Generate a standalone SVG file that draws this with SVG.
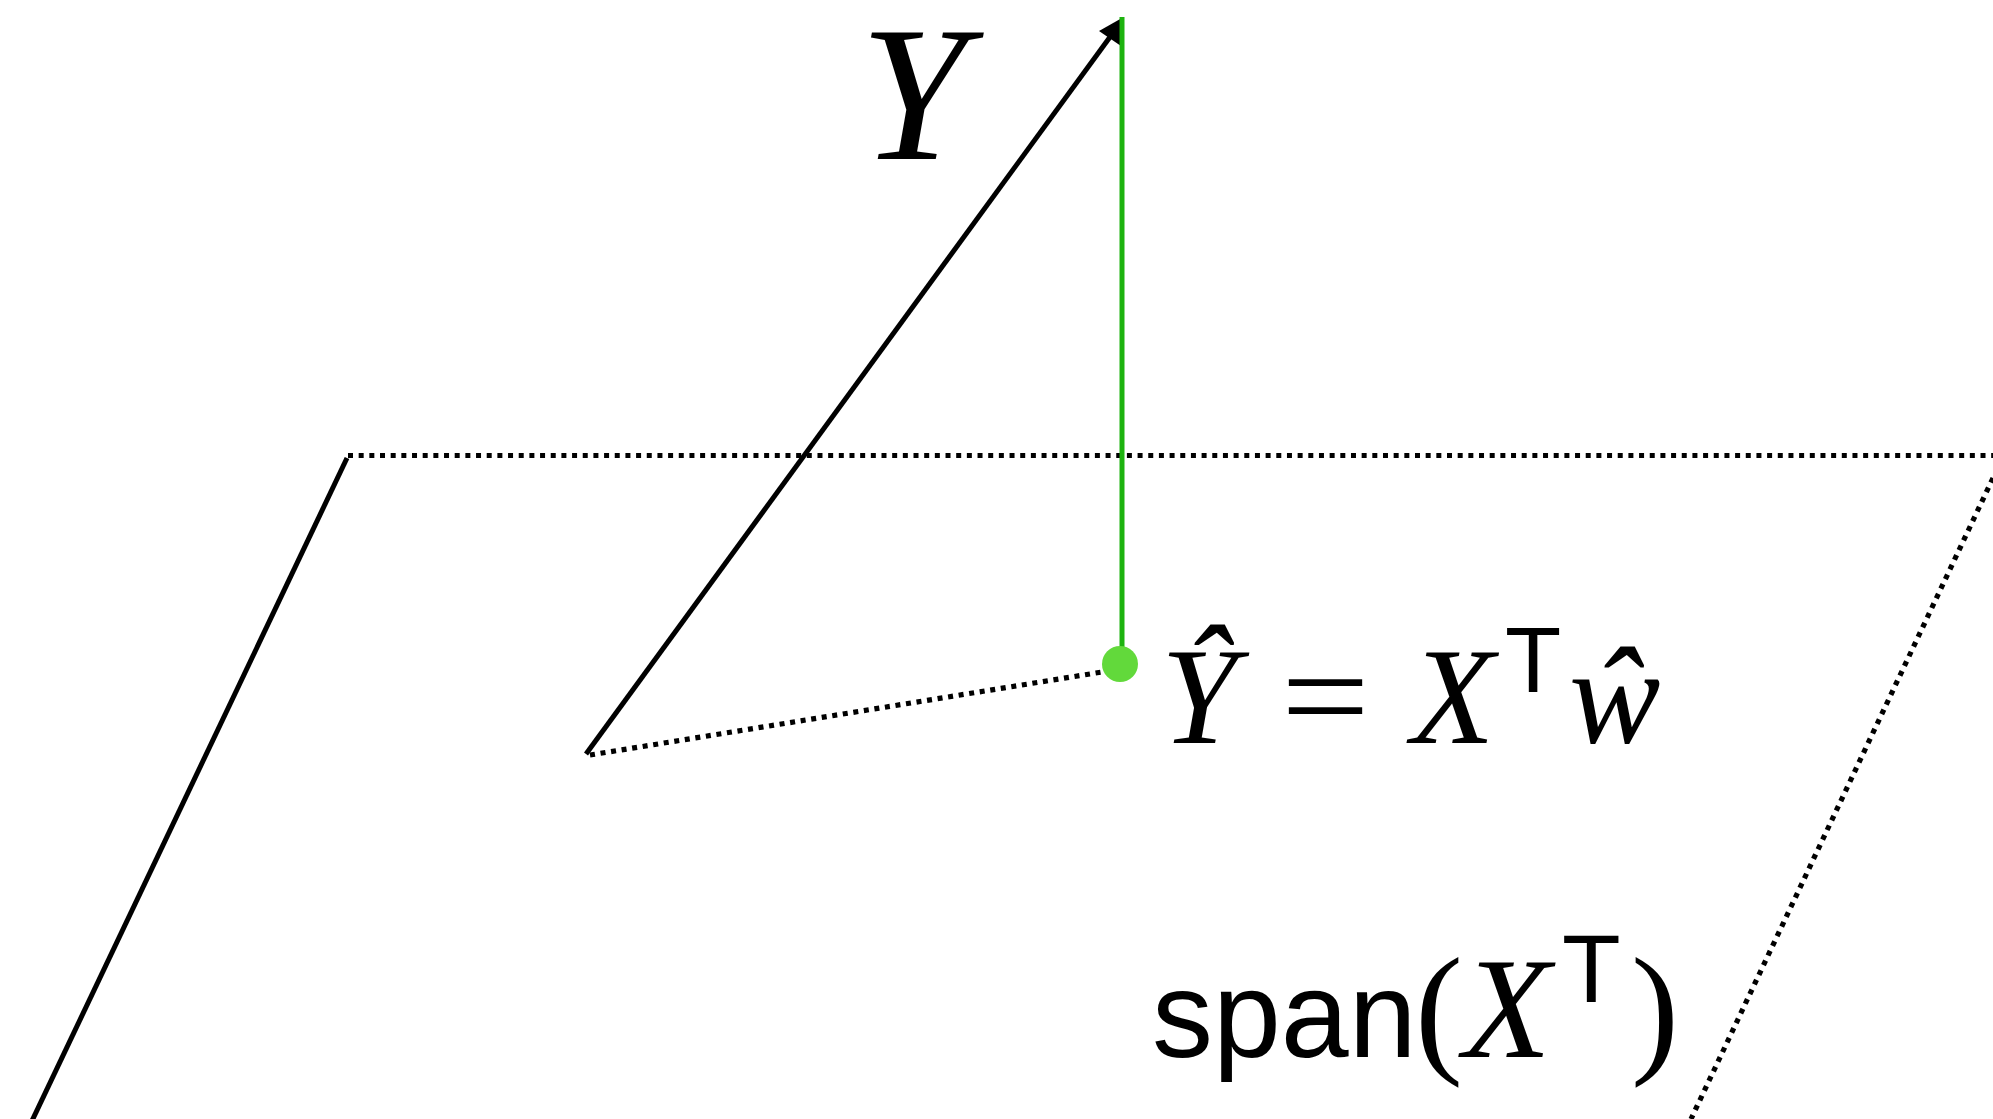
<svg xmlns="http://www.w3.org/2000/svg" width="1993" height="1119" viewBox="0 0 1993 1119">
<style>
.solid{stroke:#000;stroke-width:5;fill:none}
.dot{stroke:#000;stroke-width:5.2;fill:none;stroke-dasharray:5 5.67}
.math{font-family:"Liberation Serif","Times New Roman",serif;font-style:italic;fill:#000}
.rm{font-family:"Liberation Serif","Times New Roman",serif;fill:#000}
.sans{font-family:"Liberation Sans",Arial,sans-serif;fill:#000}
</style>
<rect width="1993" height="1119" fill="#fff"/>
<g id="plane">
<line class="solid" x1="347" y1="458" x2="30" y2="1125"/>
<line class="dot" x1="348" y1="455.5" x2="1993" y2="455.5"/>
<line class="dot" x1="1993" y1="478" x2="1691" y2="1119"/>
</g>
<g id="connectors">
<line class="solid" x1="586" y1="754" x2="1110" y2="37"/>
<polygon points="1122,18 1099,31 1121,46" fill="#000"/>
<line class="dot" x1="590" y1="755" x2="1102" y2="672"/>
<line x1="1122" y1="17" x2="1122" y2="660" stroke="#1db30f" stroke-width="5"/>
</g>
<g id="node-yhat-point">
<circle cx="1120" cy="664" r="18" fill="#62d93b"/>
</g>
<g id="label-Y">
<text class="math" x="860" y="159" font-size="192">Y</text>
</g>
<g id="label-formula">
<text class="math" x="1161" y="743" font-size="137">Ŷ</text>
<text class="rm" x="0" y="743" font-size="137" transform="translate(1281,0) scale(1.15,1)">=</text>
<text class="math" x="1411" y="743" font-size="137">X</text>
<text class="sans" x="1505" y="692" font-size="92">T</text>
<text class="math" x="1569" y="743" font-size="137">ŵ</text>
</g>
<g id="label-span">
<text class="sans" x="1152" y="1057" font-size="122">span</text>
<text class="rm" x="1415" y="1057" font-size="144">(</text>
<text class="math" x="1463" y="1057" font-size="144">X</text>
<text class="sans" x="1562" y="1002" font-size="96">T</text>
<text class="rm" x="1631" y="1057" font-size="144">)</text>
</g>
</svg>
